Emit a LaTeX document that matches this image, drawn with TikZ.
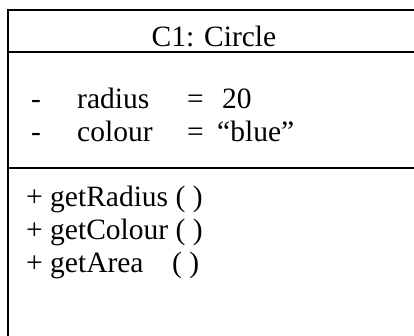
\documentclass[tikz,border=0pt]{standalone}
\usepackage{fontspec}
\setmainfont{Liberation Serif}
\begin{document}
\begin{tikzpicture}[x=1pt,y=-1pt,
  txt/.style={anchor=base west,inner sep=0pt,font=\fontsize{29.5}{32}\selectfont},
  ttl/.style={anchor=base,inner sep=0pt,font=\fontsize{29.5}{32}\selectfont},
  frame/.style={line width=1.8pt,black}]
\useasboundingbox (0,0) rectangle (414,335);
% frame
\coordinate (tl) at (8,10);
\coordinate (tr) at (416,10);
\coordinate (bl) at (8,337);
\coordinate (h1l) at (8,52);
\coordinate (h1r) at (416,52);
\coordinate (h2l) at (8,168);
\coordinate (h2r) at (416,168);
\draw[frame] (tr) -- (tl) -- (bl);
\draw[frame] (h1l) -- (h1r);
\draw[frame] (h2l) -- (h2r);
% title
\node[ttl] (title) at (214,46) {C1: Circle};
% attributes
\node[txt] (d1) at (31,108) {-};
\node[txt] (a1) at (77,108) {radius};
\node[txt] (e1) at (187,108) {=};
\node[txt] (v1) at (222,108) {20};
\node[txt] (d2) at (31,141) {-};
\node[txt] (a2) at (77,141) {colour};
\node[txt] (e2) at (187,141) {=};
\node[txt] (v2) at (217,141) {“blue”};
% methods
\node[txt] (m1) at (26,206) {+ getRadius ( )};
\node[txt] (m2) at (26,239) {+ getColour ( )};
\node[txt] (m3) at (26,272) {+ getArea};
\node[txt] (p3) at (172,272) {( )};
\end{tikzpicture}
\end{document}
